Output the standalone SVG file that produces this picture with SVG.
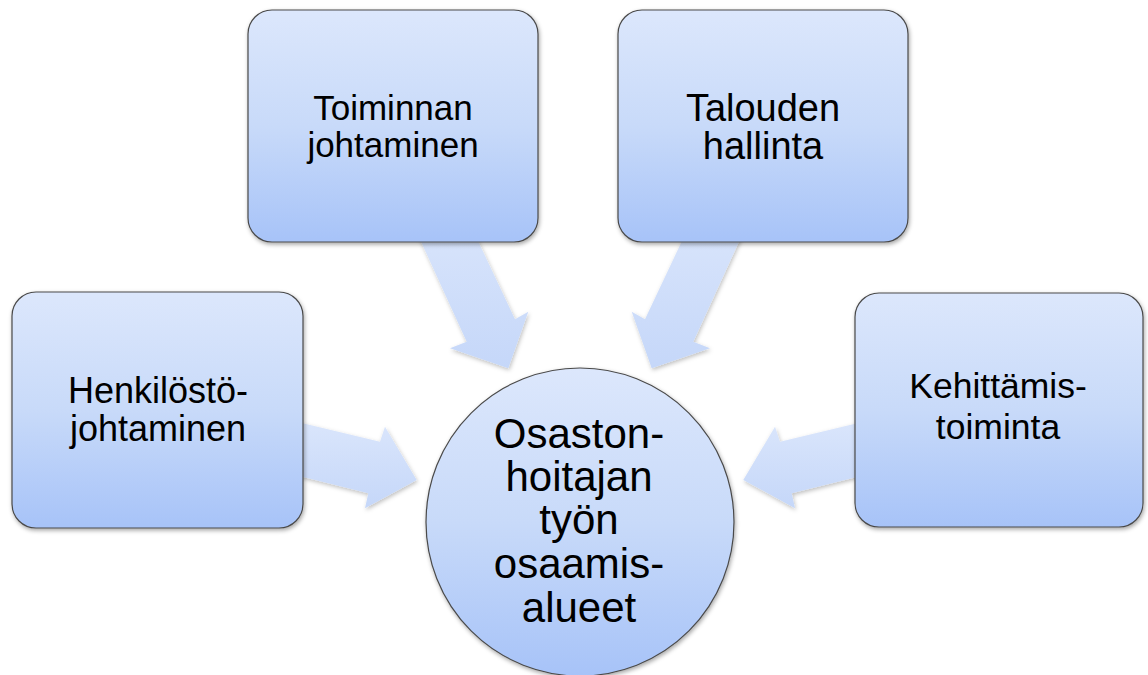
<svg xmlns="http://www.w3.org/2000/svg" width="1148" height="675" viewBox="0 0 1148 675">
  <defs>
    <linearGradient id="boxGrad" x1="0" y1="0" x2="0" y2="1">
      <stop offset="0" stop-color="#dce7fc"/>
      <stop offset="0.5" stop-color="#c8daf9"/>
      <stop offset="1" stop-color="#a7c3f8"/>
    </linearGradient>
    <linearGradient id="arrowGrad" x1="0" y1="0" x2="0" y2="1">
      <stop offset="0" stop-color="#dce7fc"/>
      <stop offset="1" stop-color="#c5d7f9"/>
    </linearGradient>
    <filter id="shadow" x="-10%" y="-10%" width="130%" height="130%">
      <feDropShadow dx="1" dy="2" stdDeviation="2" flood-color="#000" flood-opacity="0.35"/>
    </filter>
    <filter id="ashadow" x="-10%" y="-10%" width="130%" height="130%">
      <feDropShadow dx="1" dy="2" stdDeviation="2" flood-color="#000" flood-opacity="0.25"/>
    </filter>
  </defs>
  <style>
    .box { fill: url(#boxGrad); stroke: #4a4a4a; stroke-width: 1.2; filter: url(#shadow); }
    .arrow { fill: url(#arrowGrad); filter: url(#ashadow); }
    .t { font-family: "Liberation Sans", Arial, sans-serif; fill: #000; text-anchor: middle; }
  </style>
  <rect width="1148" height="675" fill="#ffffff"/>

  <g id="connectors">
    <polygon class="arrow" points="402,200 458.7,200 515,319.3 528.3,311.7 508.3,368.3 450,348.3 466.7,341.7"/>
    <polygon class="arrow" points="758,200 701.3,200 645,319.3 631.7,311.7 651.7,368.3 710,348.3 693.3,341.7"/>
    <polygon class="arrow" points="260,412.9 380,441.7 385,426.7 416.7,480 365,508.3 368.3,493.3 260,466.3"/>
    <polygon class="arrow" points="900,412.9 780,441.7 775,426.7 743.3,480 795,508.3 791.7,493.3 900,466.3"/>
  </g>

  <g id="node-toiminnan">
    <rect class="box" x="248" y="10" width="290" height="232" rx="24" ry="24"/>
    <text class="t" font-size="35" x="393" y="120">Toiminnan</text>
    <text class="t" font-size="35" x="393" y="157">johtaminen</text>
  </g>
  <g id="node-talouden">
    <rect class="box" x="618" y="10" width="290" height="232" rx="24" ry="24"/>
    <text class="t" font-size="38" x="763" y="121">Talouden</text>
    <text class="t" font-size="38" x="763" y="159">hallinta</text>
  </g>
  <g id="node-henkilosto">
    <rect class="box" x="12" y="292" width="291" height="236" rx="24" ry="24"/>
    <text class="t" font-size="36" x="158" y="403">Henkilöstö-</text>
    <text class="t" font-size="36" x="158" y="441">johtaminen</text>
  </g>
  <g id="node-kehittamis">
    <rect class="box" x="855" y="293" width="288" height="234" rx="24" ry="24"/>
    <text class="t" font-size="35.5" x="998" y="398">Kehittämis-</text>
    <text class="t" font-size="35.5" x="998" y="439">toiminta</text>
  </g>
  <g id="node-center">
    <circle class="box" cx="580" cy="522" r="154"/>
    <text class="t" font-size="42" x="579" y="448">Osaston-</text>
    <text class="t" font-size="42" x="579" y="491">hoitajan</text>
    <text class="t" font-size="42" x="579" y="534">työn</text>
    <text class="t" font-size="42" x="579" y="578">osaamis-</text>
    <text class="t" font-size="42" x="579" y="622">alueet</text>
  </g>
</svg>
